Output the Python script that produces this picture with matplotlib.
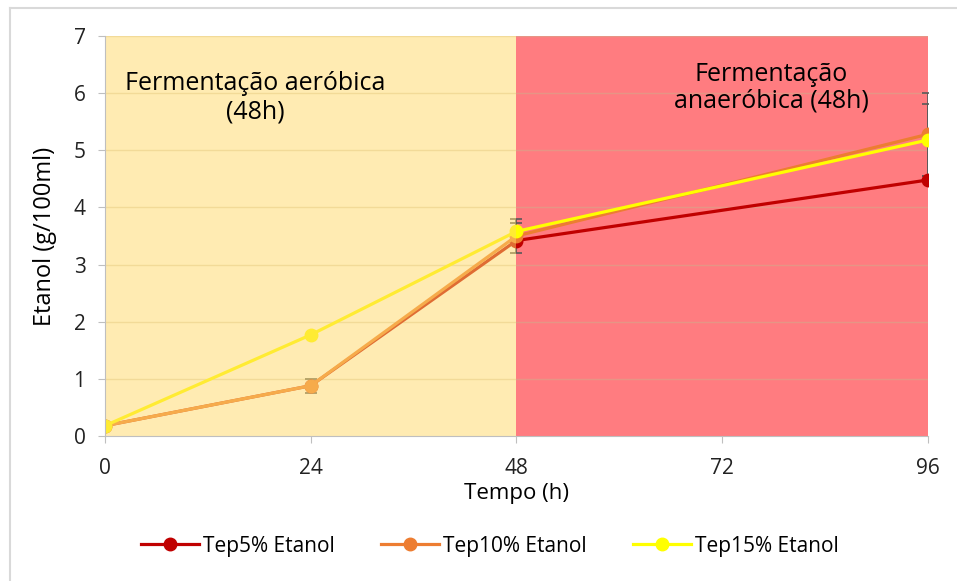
import matplotlib.pyplot as plt
from matplotlib.lines import Line2D

plt.rcParams['font.family'] = ['Open Sans', 'DejaVu Sans']

tempo = [0, 24, 48, 96]
tep5 = [0.18, 0.88, 3.42, 4.48]
tep10 = [0.18, 0.88, 3.50, 5.28]
tep15 = [0.18, 1.77, 3.58, 5.18]
err5 = [0.0, 0.0, 0.0, 0.0]
err10 = [0.0, 0.12, 0.30, 0.73]
err15 = [0.0, 0.0, 0.15, 0.63]

series = [
    ('Tep5% Etanol', tep5, err5, '#C00000'),
    ('Tep10% Etanol', tep10, err10, '#ED7D31'),
    ('Tep15% Etanol', tep15, err15, '#FFFF00'),
]

fig = plt.figure(figsize=(9.57, 5.81), dpi=100)
ax = fig.add_axes([0.1097, 0.2496, 0.860, 0.6885])

# anaerobic block sits behind the lines, aerobic block is a see-through overlay
ax.axvspan(48, 96, color='#FF7C80', zorder=0.5, lw=0)
ax.axvspan(0, 48, color='#FFD966', alpha=0.5, zorder=5, lw=0)

for y in range(1, 8):
    ax.axhline(y, color='#C8B48C', lw=1, alpha=0.45, zorder=1)

handles = []
for label, vals, err, col in series:
    ax.errorbar(tempo, vals, yerr=err, fmt='none', ecolor='#595959',
                elinewidth=1.2, capsize=4, capthick=1.2, zorder=2)
    ln, = ax.plot(tempo, vals, color=col, lw=2.3, marker='o', ms=9,
                  label=label, zorder=3)
    handles.append(ln)

ax.set_xlim(0, 96)
ax.set_ylim(0, 7)
ax.set_xticks([0, 24, 48, 72, 96])
ax.set_yticks(range(0, 8))
ax.tick_params(axis='both', labelsize=15, color='#BFBFBF', length=5,
               labelcolor='#222222')
ax.tick_params(axis='x', pad=11)
ax.tick_params(axis='y', pad=9)
for s in ['top', 'right']:
    ax.spines[s].set_visible(False)
for s in ['left', 'bottom']:
    ax.spines[s].set_color('#BFBFBF')
    ax.spines[s].set_zorder(6)

ax.set_xlabel('Tempo (h)', fontsize=16, labelpad=3)
ax.set_ylabel('Etanol (g/100ml)', fontsize=17, labelpad=12)

ax.text(17.5, 5.92, 'Fermentação aeróbica\n(48h)', ha='center', va='center',
        fontsize=18, linespacing=1.15, zorder=7)
ax.text(77.7, 6.09, 'Fermentação\nanaeróbica (48h)', ha='center', va='center',
        fontsize=18, linespacing=1.1, zorder=7)

fig.legend(handles=handles, loc='center', bbox_to_anchor=(0.512, 0.06),
           ncol=3, frameon=False, fontsize=15, handlelength=2.8,
           columnspacing=2.2, handletextpad=0.2)

# light outer border (left and top only visible in the crop)
fig.add_artist(Line2D([0.0105, 0.0105], [0.0, 0.986], color='#D9D9D9', lw=1.5))
fig.add_artist(Line2D([0.0105, 1.0], [0.986, 0.986], color='#D9D9D9', lw=1.5))

fig.savefig('out.png', dpi=100)
